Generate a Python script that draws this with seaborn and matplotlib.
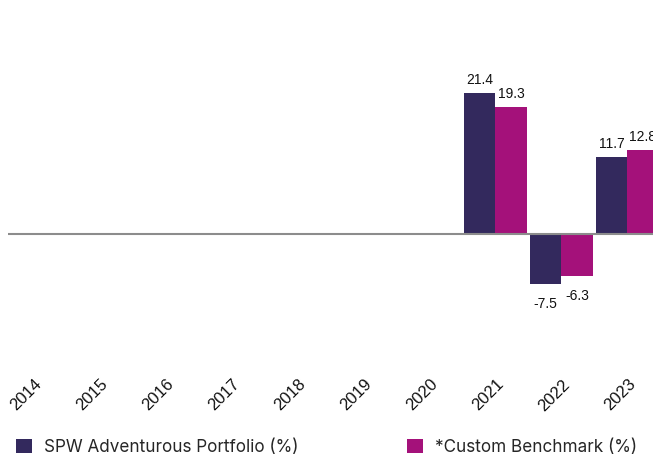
import numpy as np
import pandas as pd
import matplotlib
matplotlib.use("Agg")
import matplotlib.pyplot as plt
import matplotlib.transforms as mtransforms
import seaborn as sns

# chart data
years = ["2014", "2015", "2016", "2017", "2018", "2019", "2020", "2021", "2022", "2023"]
portfolio = [None, None, None, None, None, None, None, 21.4, -7.5, 11.7]
benchmark = [None, None, None, None, None, None, None, 19.3, -6.3, 12.8]
series_names = ["SPW Adventurous Portfolio (%)", "*Custom Benchmark (%)"]
colors = ["#33295d", "#a4117a"]

df = pd.DataFrame({
    "Year": years * 2,
    "Value": portfolio + benchmark,
    "Series": [series_names[0]] * len(years) + [series_names[1]] * len(years),
}).dropna()

sns.set_style("white")
plt.rcParams["font.family"] = ["Liberation Sans", "DejaVu Sans"]

W, H = 653, 457
fig = plt.figure(figsize=(W / 100, H / 100), dpi=100)

# axes placement in pixels (right edge runs past the figure, like the original crop)
left_px, right_px, top_px, bottom_px = 8, 660.3, 20, 360
ax = fig.add_axes([left_px / W, 1 - bottom_px / H,
                   (right_px - left_px) / W, (bottom_px - top_px) / H])

sns.barplot(data=df, x="Year", y="Value", hue="Series", order=years,
            hue_order=series_names, palette=colors, saturation=1,
            width=0.95, gap=0, errorbar=None, linewidth=0, ax=ax)

# zero line
ax.axhline(0, color="#8c8c8c", linewidth=1.5, zorder=3)

# value labels
for cont in ax.containers:
    for bar, v in zip(cont.patches, cont.datavalues):
        x = bar.get_x() + bar.get_width() / 2
        off = 4 if v >= 0 else -9.5
        ax.annotate(f"{v:.1f}", (x, v), xytext=(0, off), textcoords="offset points",
                    ha="center", va="bottom" if v >= 0 else "top",
                    fontsize=10, color="#111111")

# scales
px_per_unit = 6.6
zero_px = 234
ax.set_ylim(-(bottom_px - zero_px) / px_per_unit, (zero_px - top_px) / px_per_unit)
ax.set_xlim(-(33.3 - left_px) / 66, (right_px - 33.3) / 66)

ax.set_xlabel("")
ax.set_ylabel("")
ax.set_yticks([])
for s in ax.spines.values():
    s.set_visible(False)
ax.tick_params(axis="x", length=0, pad=12, labelsize=12, labelcolor="#111111")
plt.setp(ax.get_xticklabels(), rotation=45, ha="center")
offset = mtransforms.ScaledTranslation(-7 / 100, 0, fig.dpi_scale_trans)
for lab in ax.get_xticklabels():
    lab.set_transform(lab.get_transform() + offset)

# legend: two entries placed separately
handles, labels = ax.get_legend_handles_labels()
ax.get_legend().remove()
for h, l, xpx in zip(handles, labels, [16, 407]):
    fig.legend([h], [l], loc="lower left", bbox_to_anchor=(xpx / W, 1 / H),
               frameon=False, borderpad=0, borderaxespad=0,
               handlelength=0.95, handleheight=0.95, handletextpad=0.7,
               prop={"family": ["Inter", "DejaVu Sans"], "size": 12.3})

fig.savefig("out.png", dpi=100)
